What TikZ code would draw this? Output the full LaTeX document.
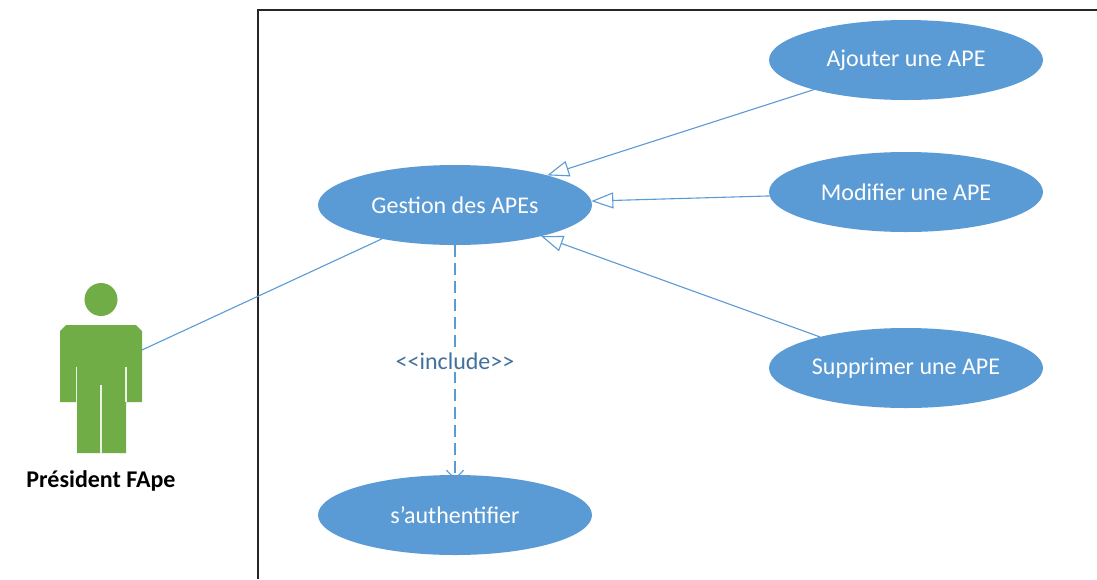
\documentclass[tikz,border=0pt]{standalone}
\usepackage{fontspec}
\setmainfont{Carlito}
\usetikzlibrary{arrows.meta,shapes.geometric}
\definecolor{ucblue}{HTML}{5B9BD5}
\definecolor{actorgreen}{HTML}{70AD47}
\definecolor{labelblue}{HTML}{41719C}
\tikzset{
  usecase/.style={ellipse,fill=ucblue,draw=none,minimum width=274pt,minimum height=80pt,inner sep=0pt,outer sep=0pt,text=white,font=\fontsize{24}{28}\selectfont},
  assoc/.style={draw=ucblue,line width=1.1pt},
  generalize/.style={assoc,-{Triangle[open,length=22pt,width=16pt,line width=1.1pt]}},
  includes/.style={assoc,dashed,dash pattern=on 12pt off 6pt,-{Straight Barb[length=9pt,width=17pt,line width=1.1pt]}},
  framebox/.style={draw=black!85,line width=1.3pt},
  actorbody/.style={fill=actorgreen,draw=none},
  actorgap/.style={draw=white!85!actorgreen,line width=1.3pt},
}
\begin{document}
\begin{tikzpicture}[x=1pt,y=-1pt]
\useasboundingbox (0,0) rectangle (1097,579);
\fill[white] (0,0) rectangle (1097,579);
\draw[framebox] (1097,10) -- (258,10) -- (258,579);
% actor
\fill[actorbody] (101,299.5) circle (16.5);
\fill[actorbody] (66,325) -- (136,325) -- (142,331) -- (142,402) -- (126,402) -- (126,453) -- (77,453) -- (77,402) -- (60,402) -- (60,331) -- cycle;
\draw[actorgap] (76.5,367) -- (76.5,402);
\draw[actorgap] (126,367) -- (126,402);
\draw[actorgap] (101,385) -- (101,453);
\coordinate (actorport) at (142,350);
\node[font=\fontsize{24}{28}\selectfont\bfseries,inner sep=0pt] (actorname) at (101,481) {Président FApe};
% use cases
\node[usecase] (gestion) at (455,205) {Gestion des APEs};
\node[usecase] (ajouter) at (906,60) {Ajouter une APE};
\node[usecase] (modifier) at (906,192) {Modifier une APE};
\node[usecase] (supprimer) at (906,368) {Supprimer une APE};
\node[usecase] (auth) at (455,515) {s'authentifier};
% connectors
\draw[assoc] (actorport) -- (gestion);
\draw[generalize] (ajouter) -- (gestion);
\draw[generalize] (modifier) -- (gestion);
\draw[generalize] (supprimer) -- (gestion);
\draw[includes] (gestion) -- ([yshift=-5pt]auth.north) node[pos=0.495,fill=white,text=labelblue,font=\fontsize{24}{28}\selectfont,inner xsep=2pt,inner ysep=2pt,solid] {<{}<include>{}>};
\end{tikzpicture}
\end{document}
